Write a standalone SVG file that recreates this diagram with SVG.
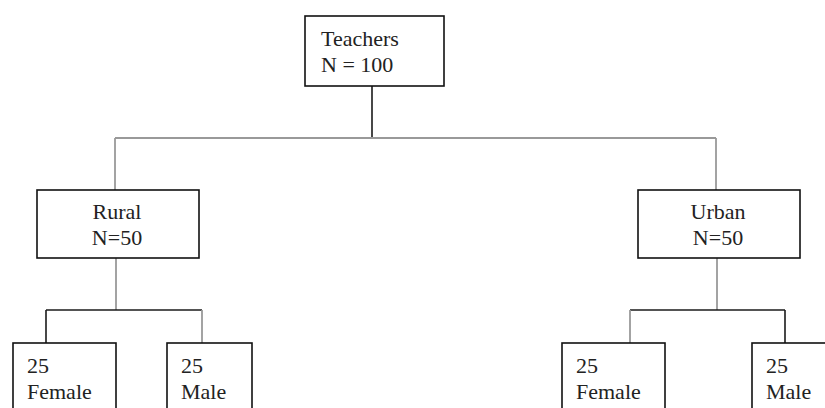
<svg xmlns="http://www.w3.org/2000/svg" width="825" height="408" viewBox="0 0 825 408">
<style>
.box{fill:#fff;stroke:#111;stroke-width:1.6}
.t{font-family:"Liberation Serif","Times New Roman",serif;font-size:22px;fill:#222}
.c{text-anchor:middle}
.g{stroke:#999;stroke-width:1.8;fill:none}
.k{stroke:#1a1a1a;stroke-width:1.6;fill:none}
</style>
<rect width="825" height="408" fill="#fff"/>
<g id="connectors">
<line class="k" x1="372" y1="86" x2="372" y2="138"/>
<line class="g" x1="115" y1="138" x2="716" y2="138"/>
<line class="g" x1="115" y1="138" x2="115" y2="190"/>
<line class="g" x1="716" y1="138" x2="716" y2="190"/>
<line class="g" x1="116" y1="258" x2="116" y2="310"/>
<line class="k" x1="46" y1="310" x2="202" y2="310"/>
<line class="k" x1="46" y1="310" x2="46" y2="343"/>
<line class="g" x1="202" y1="310" x2="202" y2="343"/>
<line class="g" x1="717" y1="258" x2="717" y2="310"/>
<line class="k" x1="630" y1="310" x2="785" y2="310"/>
<line class="g" x1="630" y1="310" x2="630" y2="343"/>
<line class="k" x1="785" y1="310" x2="785" y2="343"/>
</g>
<g id="teachers">
<rect class="box" x="305" y="16" width="139" height="70"/>
<text class="t" x="321" y="46">Teachers</text>
<text class="t" x="321" y="72">N = 100</text>
</g>
<g id="rural">
<rect class="box" x="37" y="190" width="162" height="68"/>
<text class="t c" x="117" y="219">Rural</text>
<text class="t c" x="117" y="245">N=50</text>
</g>
<g id="urban">
<rect class="box" x="638" y="190" width="162" height="68"/>
<text class="t c" x="718" y="219">Urban</text>
<text class="t c" x="718" y="245">N=50</text>
</g>
<g id="rural-female">
<rect class="box" x="13" y="343" width="103" height="80"/>
<text class="t" x="27" y="373">25</text>
<text class="t" x="27" y="399">Female</text>
</g>
<g id="rural-male">
<rect class="box" x="167" y="343" width="85" height="80"/>
<text class="t" x="181" y="373">25</text>
<text class="t" x="181" y="399">Male</text>
</g>
<g id="urban-female">
<rect class="box" x="562" y="343" width="103" height="80"/>
<text class="t" x="576" y="373">25</text>
<text class="t" x="576" y="399">Female</text>
</g>
<g id="urban-male">
<rect class="box" x="752" y="343" width="90" height="80"/>
<text class="t" x="766" y="373">25</text>
<text class="t" x="766" y="399">Male</text>
</g>
</svg>
